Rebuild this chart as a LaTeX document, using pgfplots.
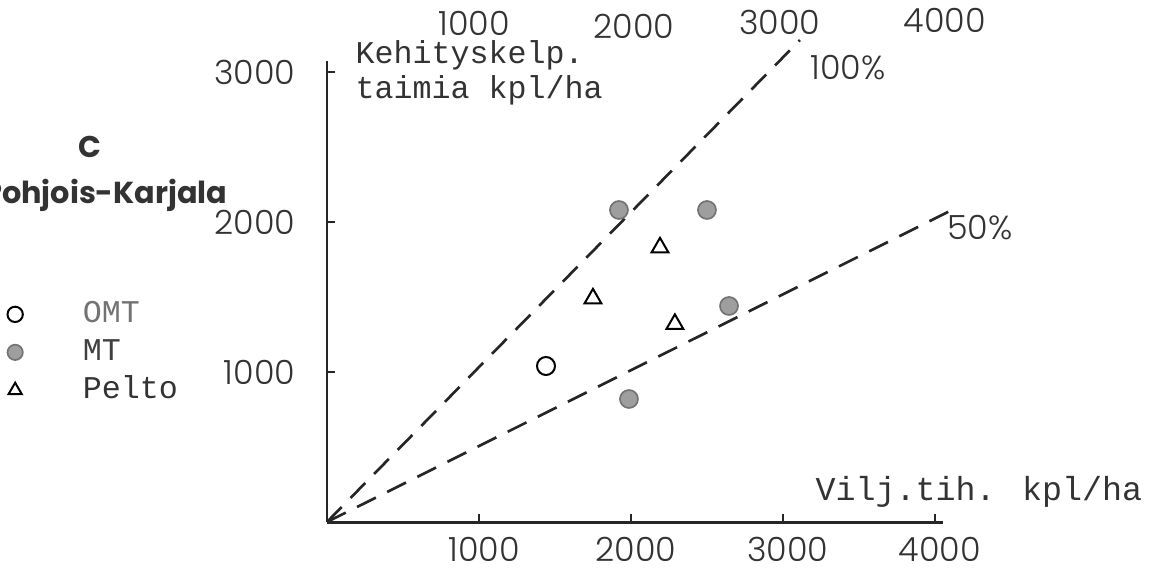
\documentclass[border=0pt]{standalone}
\usepackage{fontspec}
\usepackage{pgfplots}
\pgfplotsset{compat=1.18}
\setmainfont{Liberation Mono}
\newfontfamily\numfont{Poppins Light}
\newfontfamily\headfont{Poppins}

\begin{document}
\begin{tikzpicture}
\begin{axis}[
    x=0.0456pt, y=0.045pt,
    xmin=0, xmax=4050, ymin=0, ymax=3070,
    axis x line=bottom, axis y line=left,
    axis line style={-, black!85},
    x axis line style={line width=0.9pt},
    y axis line style={line width=0.6pt},
    xtick={1000,2000,3000,4000}, ytick={1000,2000,3000},
    tick align=inside, major tick length=2.5pt,
    tick style={black!85, line width=0.6pt},
    /pgf/number format/assume math mode=true,
    /pgf/number format/1000 sep={},
    ticklabel style={font=\numfont\fontsize{10}{12}\selectfont, text=black!80},
    xticklabel style={inner sep=0pt, yshift=-4.4pt, xshift=1.5pt},
    yticklabel style={xshift=-6pt},
    clip=false,
    legend style={at={(-0.5200,0.4849)}, anchor=north west, draw=none, fill=none,
        inner sep=0pt, font=\fontsize{9.5}{11}\selectfont,
        nodes={inner sep=0pt, text height=7pt, text depth=2pt},
        row sep=2.4pt, /tikz/every odd column/.append style={column sep=18pt}},
    legend cell align=left,
    legend image code/.code={\draw[#1, mark size=2.3pt] plot coordinates {(0pt,0pt)};},
]
\addplot[only marks, mark=o, mark size=2.7pt, line width=0.6pt, black, mark options={fill=white}]
    coordinates {(1441,1040)};
\addlegendentry{\textcolor{black!55}{OMT}}
\addplot[only marks, mark=*, mark size=2.7pt, line width=0.5pt, mark options={draw=black!55, fill=black!38}]
    coordinates {(1921,2080) (2500,2080) (2645,1440) (1987,820)};
\addlegendentry{\textcolor{black!75}{MT}}
\addplot[only marks, mark=triangle, mark size=2.9pt, line width=0.6pt, black]
    coordinates {(2191,1830) (1750,1490) (2289,1320)};
\addlegendentry{\textcolor{black!80}{Pelto}}
\addplot[black!85, line width=0.8pt, dash pattern=on 6.3pt off 3.8pt, forget plot]
    coordinates {(0,0) (3112,3213)};
\addplot[black!85, line width=0.8pt, dash pattern=on 6.3pt off 3.8pt, forget plot]
    coordinates {(0,0) (4151,2100)};

\begin{scope}[every node/.style={text=black!80, inner sep=0pt}]
\node[font=\numfont\fontsize{10}{12}\selectfont] at (axis cs:967,3325) {1000};
\node[font=\numfont\fontsize{10}{12}\selectfont] at (axis cs:2020,3305) {2000};
\node[font=\numfont\fontsize{10}{12}\selectfont] at (axis cs:2980,3333) {3000};
\node[font=\numfont\fontsize{10}{12}\selectfont] at (axis cs:4066,3347) {4000};
\node[font=\fontsize{9.5}{11}\selectfont, anchor=base west] at (axis cs:184,3055) {Kehityskelp.};
\node[font=\fontsize{9.5}{11}\selectfont, anchor=base west] at (axis cs:184,2824) {taimia kpl/ha};
\node[font=\numfont\fontsize{10}{12}\selectfont] at (axis cs:3428,3027) {100\%};
\node[font=\numfont\fontsize{10}{12}\selectfont] at (axis cs:4296,1960) {50\%};
\node[font=\fontsize{10}{12}\selectfont, anchor=east] at (axis cs:5368,200) {Vilj.tih. kpl/ha};
\node[font=\headfont\bfseries\fontsize{9}{11}\selectfont] at (axis cs:-1560,2500) {C};
\node[font=\headfont\bfseries\fontsize{9.1}{11}\selectfont, anchor=east] at (axis cs:-651,2180) {Pohjois-Karjala};
\end{scope}

\coordinate (bbl) at (axis cs:-2151,-300);
\coordinate (btr) at (axis cs:5408,3480);
\end{axis}
\pgfresetboundingbox
\useasboundingbox (bbl) rectangle (btr);
\end{tikzpicture}
\end{document}
